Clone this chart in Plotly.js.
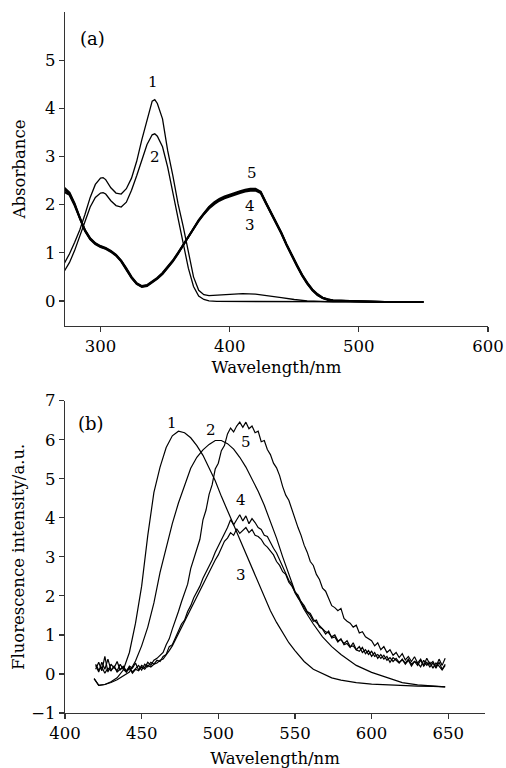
<!DOCTYPE html>
<html>
<head>
<meta charset="utf-8">
<script src="https://cdn.plot.ly/plotly-3.0.1.min.js"></script>
<style>html,body{margin:0;padding:0;background:#fff;}#chart{width:506px;height:768px;}</style>
</head>
<body>
<div id="chart"></div>
<script>
// ---------- Panel (a): absorbance ----------
const a12_x = [272,276,280,284,288,292,296,300,302,304,308,312,316,320,324,328,332,336,340,342,344,348,352,356,360,364,368,372,376,380,384,390,400,410,420,430,440,450,460,470,480,500,550];
const a1_y = [0.78,0.98,1.22,1.48,1.80,2.15,2.42,2.55,2.56,2.52,2.35,2.24,2.22,2.33,2.55,2.90,3.35,3.78,4.15,4.18,4.10,3.78,3.12,2.60,2.02,1.55,1.00,0.50,0.22,0.13,0.11,0.12,0.14,0.15,0.14,0.11,0.07,0.03,0.00,-0.01,-0.02,-0.02,-0.02];
const a2_y = [0.62,0.80,1.05,1.33,1.65,1.95,2.15,2.24,2.25,2.22,2.08,1.98,1.95,2.05,2.30,2.60,2.92,3.25,3.45,3.47,3.42,3.20,2.78,2.22,1.72,1.20,0.68,0.30,0.10,0.03,0.00,-0.01,-0.01,-0.02,-0.02,-0.02,-0.02,-0.02,-0.02,-0.02,-0.02,-0.02,-0.02];
const a345_x = [272,276,280,284,288,292,296,300,304,308,312,316,320,324,328,332,336,340,344,348,352,356,360,364,368,372,376,380,384,388,392,396,400,404,408,412,416,420,424,428,432,436,440,444,448,452,456,460,464,468,472,476,480,490,500,510,520,530,540,550];
const a5_y = [2.26,2.20,1.98,1.70,1.45,1.28,1.18,1.12,1.08,1.02,0.94,0.82,0.66,0.48,0.35,0.29,0.31,0.38,0.46,0.56,0.68,0.82,0.98,1.15,1.32,1.50,1.68,1.82,1.95,2.05,2.12,2.17,2.21,2.25,2.28,2.31,2.33,2.33,2.27,2.05,1.85,1.62,1.42,1.18,0.95,0.75,0.55,0.38,0.24,0.14,0.07,0.03,0.01,0.00,-0.01,-0.02,-0.02,-0.02,-0.02,-0.02];
const a4_y = [2.31,2.23,2.00,1.71,1.46,1.29,1.19,1.13,1.09,1.03,0.95,0.83,0.67,0.49,0.36,0.30,0.32,0.39,0.47,0.57,0.69,0.83,0.99,1.16,1.33,1.50,1.67,1.81,1.94,2.03,2.10,2.15,2.19,2.23,2.26,2.29,2.31,2.31,2.26,2.04,1.84,1.61,1.41,1.17,0.94,0.74,0.54,0.37,0.23,0.13,0.06,0.03,0.01,0.00,-0.01,-0.02,-0.02,-0.02,-0.02,-0.02];
const a3_y = [2.35,2.25,2.02,1.72,1.47,1.30,1.20,1.14,1.10,1.04,0.96,0.84,0.68,0.50,0.37,0.31,0.33,0.40,0.48,0.58,0.70,0.84,1.00,1.17,1.33,1.49,1.66,1.80,1.92,2.01,2.08,2.13,2.17,2.21,2.24,2.27,2.29,2.29,2.24,2.03,1.83,1.60,1.40,1.16,0.93,0.73,0.53,0.36,0.22,0.12,0.06,0.02,0.01,0.00,-0.01,-0.02,-0.02,-0.02,-0.02,-0.02];

// ---------- Panel (b): fluorescence ----------
const b12_x = [419,422,426,430,434,438,442,446,450,454,458,462,466,470,474,478,482,486,490,494,498,502,506,510,514,518,522,526,530,534,538,542,546,550,556,562,568,574,580,590,600,610,620,630,640,648];
const b1_y = [-0.12,-0.29,-0.27,-0.20,-0.10,0.10,0.55,1.30,2.25,3.55,4.65,5.30,5.80,6.10,6.22,6.18,6.05,5.85,5.60,5.28,4.95,4.55,4.20,3.82,3.45,3.08,2.70,2.35,1.98,1.62,1.32,1.05,0.80,0.60,0.32,0.12,0.00,-0.10,-0.16,-0.22,-0.26,-0.28,-0.30,-0.31,-0.32,-0.33];
const b2_y = [-0.12,-0.29,-0.27,-0.22,-0.15,-0.06,0.05,0.33,0.72,1.20,1.82,2.60,3.25,3.85,4.38,4.85,5.27,5.55,5.74,5.88,5.98,5.98,5.90,5.76,5.55,5.30,5.00,4.68,4.32,3.92,3.48,3.00,2.55,2.12,1.65,1.28,0.95,0.70,0.50,0.22,0.04,-0.10,-0.22,-0.28,-0.31,-0.33];
const b345_x = [420,422,424,426,428,430,432,434,436,438,
  440,442,444,446,448,450,452,454,456,458,
  460,462,464,466,468,470,472,474,476,478,
  480,482,484,486,488,490,492,494,496,498,
  500,502,504,506,508,510,512,514,516,518,
  520,522,524,526,528,530,532,534,536,538,
  540,542,544,546,548,550,552,554,556,558,
  560,562,564,566,568,570,572,574,576,578,
  580,582,584,586,588,590,592,594,596,598,
  600,602,604,606,608,610,612,614,616,618,
  620,622,624,626,628,630,632,634,636,638,
  640,642,644,646,648];
const b5_y = [0.22,0.05,0.30,0.12,0.38,0.10,0.18,0.08,0.25,0.12,
  0.05,0.20,0.15,0.28,0.10,0.22,0.16,0.30,0.22,0.35,
  0.40,0.48,0.55,0.75,0.90,1.15,1.35,1.60,1.85,2.10,
  2.30,2.70,2.95,3.25,3.45,3.95,4.20,4.60,4.85,5.25,
  5.40,5.72,5.85,6.15,6.30,6.20,6.35,6.45,6.32,6.45,
  6.28,6.35,6.18,6.22,5.95,5.98,5.75,5.62,5.40,5.28,
  5.08,4.80,4.58,4.45,4.20,3.95,3.75,3.55,3.30,3.12,
  2.88,2.78,2.55,2.42,2.20,2.12,1.95,1.75,1.70,1.62,
  1.68,1.42,1.35,1.30,1.20,1.25,1.05,1.08,0.95,0.90,
  0.85,0.72,0.80,0.62,0.70,0.55,0.62,0.48,0.55,0.42,
  0.52,0.36,0.45,0.32,0.44,0.28,0.38,0.22,0.40,0.25,
  0.32,0.18,0.38,0.22,0.40];
const b4_y = [0.12,0.30,0.08,0.45,0.05,0.25,0.15,0.32,0.10,0.20,
  0.08,0.18,0.05,0.15,0.22,0.10,0.25,0.18,0.30,0.25,
  0.35,0.32,0.45,0.50,0.70,0.75,0.95,1.10,1.28,1.38,
  1.60,1.75,1.95,2.10,2.25,2.45,2.60,2.78,2.92,3.12,
  3.28,3.40,3.60,3.75,3.95,3.82,3.95,4.08,3.92,4.05,
  3.85,3.98,3.88,3.75,3.70,3.55,3.52,3.35,3.22,3.10,
  2.92,2.75,2.58,2.40,2.30,2.08,1.95,1.85,1.70,1.58,
  1.50,1.35,1.38,1.20,1.15,1.02,1.10,0.92,0.95,0.82,
  0.90,0.75,0.78,0.68,0.80,0.62,0.58,0.68,0.52,0.60,
  0.45,0.55,0.40,0.50,0.38,0.45,0.30,0.42,0.35,0.28,
  0.38,0.25,0.35,0.20,0.32,0.28,0.18,0.35,0.22,0.30,
  0.15,0.28,0.20,0.10,0.22];
const b3_y = [0.25,0.10,0.18,0.02,0.15,0.08,0.20,0.05,0.12,0.18,
  0.05,0.14,0.02,0.12,0.08,0.18,0.12,0.22,0.18,0.25,
  0.28,0.35,0.38,0.48,0.60,0.72,0.88,1.02,1.18,1.35,
  1.50,1.68,1.80,2.00,2.15,2.28,2.45,2.62,2.80,2.92,
  3.05,3.25,3.40,3.48,3.62,3.55,3.72,3.60,3.68,3.75,
  3.62,3.70,3.55,3.52,3.45,3.32,3.25,3.15,3.05,2.88,
  2.78,2.62,2.55,2.35,2.25,2.10,2.02,1.85,1.75,1.60,
  1.55,1.40,1.32,1.25,1.18,1.08,1.05,0.95,1.00,0.85,
  0.88,0.78,0.85,0.70,0.72,0.62,0.70,0.55,0.62,0.50,
  0.58,0.45,0.50,0.40,0.48,0.35,0.42,0.32,0.40,0.30,
  0.36,0.28,0.38,0.25,0.32,0.22,0.35,0.20,0.30,0.18,
  0.28,0.15,0.30,0.12,0.25];

const FONT = "DejaVu Serif, 'Liberation Serif', serif";
const thin = {color:'#000', width:1.3};
const thick = {color:'#000', width:2.0};
const bl = {color:'#000', width:1.2};

const traces = [
  {x:a12_x, y:a1_y, xaxis:'x', yaxis:'y', mode:'lines', line:thin, name:'1'},
  {x:a12_x, y:a2_y, xaxis:'x', yaxis:'y', mode:'lines', line:thin, name:'2'},
  {x:a345_x, y:a3_y, xaxis:'x', yaxis:'y', mode:'lines', line:thick, name:'3'},
  {x:a345_x, y:a4_y, xaxis:'x', yaxis:'y', mode:'lines', line:thick, name:'4'},
  {x:a345_x, y:a5_y, xaxis:'x', yaxis:'y', mode:'lines', line:thick, name:'5'},
  {x:b12_x, y:b1_y, xaxis:'x2', yaxis:'y2', mode:'lines', line:bl, name:'1'},
  {x:b12_x, y:b2_y, xaxis:'x2', yaxis:'y2', mode:'lines', line:bl, name:'2'},
  {x:b345_x, y:b3_y, xaxis:'x2', yaxis:'y2', mode:'lines', line:bl, name:'3'},
  {x:b345_x, y:b4_y, xaxis:'x2', yaxis:'y2', mode:'lines', line:bl, name:'4'},
  {x:b345_x, y:b5_y, xaxis:'x2', yaxis:'y2', mode:'lines', line:bl, name:'5'}
];

const axBase = {
  showgrid:false, zeroline:false, showline:true, linecolor:'#333', linewidth:1.2,
  ticks:'outside', ticklen:5, tickwidth:1.2, tickcolor:'#333',
  tickfont:{family:FONT, size:16.5, color:'#000'}, mirror:false, automargin:false
};

function ann(text, x, y, xr, yr, size){
  return {text:text, x:x, y:y, xref:xr, yref:yr, showarrow:false,
          font:{family:FONT, size:size, color:'#000'}};
}
const TF = {family:FONT, size:16.5, color:'#000'};

const layout = {
  width:506, height:768,
  margin:{l:65, r:18, t:12, b:55},
  paper_bgcolor:'#fff', plot_bgcolor:'#fff',
  showlegend:false,
  xaxis:Object.assign({}, axBase, {domain:[0,1], range:[272.5,600], tickvals:[300,400,500,600], anchor:'y',
    title:{text:'Wavelength/nm', font:TF, standoff:6}}),
  yaxis:Object.assign({}, axBase, {domain:[0.5521,1], range:[-0.52,6.0], tickvals:[0,1,2,3,4,5], anchor:'x',
    title:{text:'Absorbance', font:TF, standoff:15}}),
  xaxis2:Object.assign({}, axBase, {domain:[0,0.993], range:[400,674], tickvals:[400,450,500,550,600,650], anchor:'y2',
    title:{text:'Wavelength/nm', font:TF, standoff:14}}),
  yaxis2:Object.assign({}, axBase, {domain:[0,0.4455], range:[-1,7], tickvals:[-1,0,1,2,3,4,5,6,7], ticktext:['\u22121','0','1','2','3','4','5','6','7'], anchor:'x2',
    title:{text:'Fluorescence intensity/a.u.', font:TF, standoff:2}}),
  annotations:[
    ann('(a)', 294, 5.45, 'x', 'y', 18),
    ann('1', 341, 4.55, 'x', 'y', 15),
    ann('2', 342, 2.98, 'x', 'y', 15),
    ann('5', 417.5, 2.65, 'x', 'y', 15),
    ann('4', 416, 1.97, 'x', 'y', 15),
    ann('3', 416, 1.57, 'x', 'y', 15),
    ann('(b)', 417, 6.42, 'x2', 'y2', 18),
    ann('1', 470, 6.42, 'x2', 'y2', 15),
    ann('2', 495, 6.25, 'x2', 'y2', 15),
    ann('5', 518, 5.95, 'x2', 'y2', 15),
    ann('4', 515, 4.45, 'x2', 'y2', 15),
    ann('3', 515, 2.53, 'x2', 'y2', 15)
  ]
};

Plotly.newPlot('chart', traces, layout, {staticPlot:true, displayModeBar:false});
</script>
</body>
</html>
